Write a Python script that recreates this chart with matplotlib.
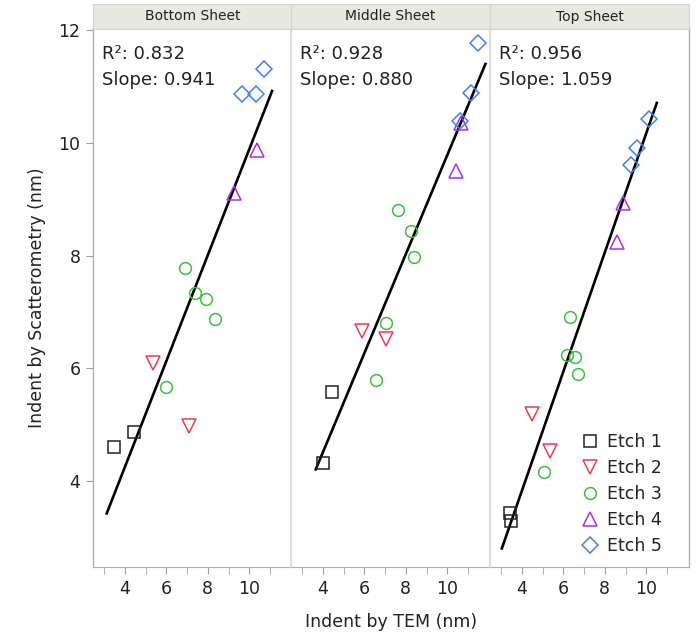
import matplotlib
matplotlib.use('Agg')
import matplotlib.pyplot as plt
import numpy as np

sheets = ['Bottom Sheet', 'Middle Sheet', 'Top Sheet']
etches = ['Etch 1', 'Etch 2', 'Etch 3', 'Etch 4', 'Etch 5']

# TEM indent (x) and scatterometry indent (y), per sheet, grouped by etch
bottom_tem = [[3.50, 4.42], [5.37, 7.11], [6.00, 6.88, 7.40, 7.91, 8.33], [9.24, 10.37], [9.64, 10.32, 10.72]]
bottom_scat = [[4.61, 4.88], [6.10, 4.98], [5.68, 7.79, 7.34, 7.23, 6.88], [9.11, 9.88], [10.87, 10.87, 11.31]]

middle_tem = [[4.03, 4.43], [5.88, 7.05], [6.57, 7.05, 7.60, 8.26, 8.40], [10.43, 10.67], [10.59, 11.14, 11.46]]
middle_scat = [[4.32, 5.58], [6.66, 6.53], [5.79, 6.80, 8.81, 8.44, 7.97], [9.51, 10.35], [10.39, 10.89, 11.78]]

top_tem = [[3.41, 3.49], [4.50, 5.37], [5.06, 6.19, 6.30, 6.55, 6.71], [8.56, 8.88], [9.24, 9.53, 10.13]]
top_scat = [[3.43, 3.30], [5.20, 4.53], [4.17, 6.24, 6.91, 6.21, 5.91], [8.25, 8.93], [9.61, 9.91, 10.42]]

r2 = [0.832, 0.928, 0.956]
slopes = [0.941, 0.880, 1.059]
intercepts = [0.485, 0.99, -0.41]

markers = ['s', 'v', 'o', '^', 'D']
msizes = [8, 10, 8.5, 10, 7.8]
colors = ['#222222', '#f03a50', '#3cc03c', '#a82cf0', '#4080ff']

plt.rcParams['font.family'] = ['DejaVu Sans']

fig = plt.figure(figsize=(6.97, 6.35), dpi=100)
W, H = 697, 635
lefts = [93, 291, 490]
pw = 199
top_px, bot_px = 29, 567

all_tem = [bottom_tem, middle_tem, top_tem]
all_scat = [bottom_scat, middle_scat, top_scat]

for i in range(3):
    ax = fig.add_axes([lefts[i] / W, 1 - bot_px / H, pw / W, (bot_px - top_px) / H])
    for j in range(5):
        ax.plot(all_tem[i][j], all_scat[i][j], linestyle='none', marker=markers[j],
                ms=msizes[j], mfc='none', mec=colors[j], mew=1.1, label=etches[j])
    xs = np.concatenate([np.array(v) for v in all_tem[i]])
    xl = np.array([xs.min() - 0.37, xs.max() + 0.37])
    ax.plot(xl, slopes[i] * xl + intercepts[i], color='black', lw=1.9, zorder=1)

    ax.set_xlim(2.47, 12.05)
    ax.set_ylim(2.48, 12.02)
    ax.set_xticks([4, 6, 8, 10])
    ax.set_xticks([3, 5, 7, 9, 11], minor=True)
    ax.tick_params(axis='x', which='both', length=5, color='#a0a0a0', labelsize=12.5,
                   labelcolor='#222222', pad=4)
    if i == 0:
        ax.set_yticks([4, 6, 8, 10, 12])
        ax.tick_params(axis='y', length=5, color='#a0a0a0', labelsize=12.5,
                       labelcolor='#222222', pad=4)
        ax.set_ylabel('Indent by Scatterometry (nm)', fontsize=12.5, color='#222222', labelpad=9)
    else:
        ax.set_yticks([])
    for s in ['left', 'right', 'top']:
        ax.spines[s].set_color('#dcdcdc')
        ax.spines[s].set_linewidth(1.5)
    ax.spines['bottom'].set_color('#b0b0b0')
    if i == 0:
        ax.spines['left'].set_color('#b0b0b0')
        ax.spines['left'].set_linewidth(1.0)
    if i == 2:
        ax.spines['right'].set_color('#b0b0b0')
        ax.spines['right'].set_linewidth(1.0)

    ax.text(0.045, 0.953, 'R\u00b2: %.3f' % r2[i], transform=ax.transAxes,
            fontsize=13, va='center', ha='left', color='#222222')
    ax.text(0.045, 0.906, 'Slope: %.3f' % slopes[i], transform=ax.transAxes,
            fontsize=13, va='center', ha='left', color='#222222')

    hax = fig.add_axes([lefts[i] / W, 1 - top_px / H, pw / W, 25 / H])
    hax.set_facecolor('#e8e8e0')
    hax.set_xticks([])
    hax.set_yticks([])
    for s in hax.spines.values():
        s.set_color('#d4d4cc')
    hax.text(0.5, 0.5, sheets[i], ha='center', va='center', fontsize=10, color='#222222')

    if i == 2:
        ax.legend(loc='lower right', bbox_to_anchor=(0.9, 0.01), frameon=False,
                  fontsize=12.5, handlelength=1.0, handletextpad=0.5,
                  labelspacing=0.45, borderaxespad=0, labelcolor='#222222')

fig.text((lefts[0] + lefts[2] + pw) / 2 / W, 1 - 622 / H, 'Indent by TEM (nm)',
         ha='center', va='center', fontsize=12.5, color='#222222')

fig.savefig('out.png', dpi=100)
